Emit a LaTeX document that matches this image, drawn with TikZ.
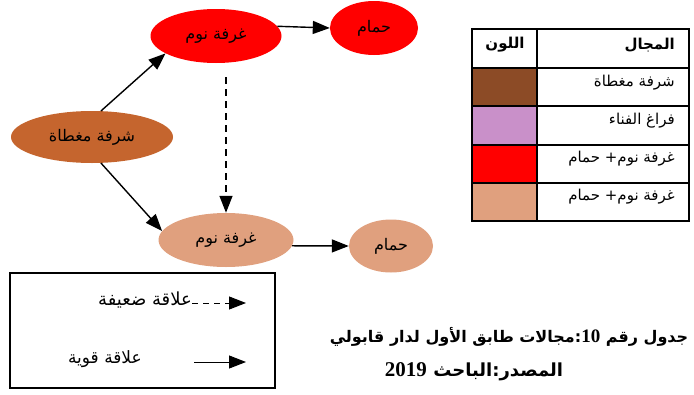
\documentclass[tikz,border=0pt]{standalone}
\usepackage{fontspec}
\setmainfont{Liberation Sans}
\newfontfamily\arabicfont[Script=Arabic]{DejaVu Sans}
\newfontfamily\numfont{Liberation Serif}
\TeXXeTstate=1
\usetikzlibrary{arrows.meta,shapes.geometric}
\definecolor{balconybrown}{RGB}{197,101,46}
\definecolor{bedpeach}{RGB}{224,160,126}
\definecolor{keybrown}{RGB}{140,75,38}
\definecolor{keyviolet}{RGB}{201,144,201}
\newcommand{\artxt}[1]{\beginR #1\endR}
\tikzset{
  room/.style={ellipse, inner sep=0pt, font=\arabicfont\fontsize{16}{18}\selectfont},
  link/.style={-{Triangle[length=17pt,width=13pt]}, line width=1.4pt},
  weaklink/.style={link, dash pattern=on 7pt off 5pt},
  keytext/.style={inner sep=0pt, font=\arabicfont\fontsize{15}{17}\selectfont},
}

\begin{document}
\begin{tikzpicture}[x=1pt,y=-1pt]
        \useasboundingbox (0,0) rectangle (694,394);

        % rooms
        \node[room, fill=balconybrown, minimum width=162pt, minimum height=52pt] (balcony) at (92,137) {\artxt{شرفة مغطاة}};
        \node[room, fill=red, minimum width=131pt, minimum height=54pt] (bedA) at (216,36) {\artxt{غرفة نوم}};
        \node[room, fill=red, minimum width=88pt, minimum height=54pt] (bathA) at (374,28) {\artxt{حمام}};
        \node[room, fill=bedpeach, minimum width=135pt, minimum height=54pt] (bedB) at (226,240) {\artxt{غرفة نوم}};
        \node[room, fill=bedpeach, minimum width=84pt, minimum height=53pt] (bathB) at (391,246) {\artxt{حمام}};

        % strong links
        \draw[link] (balcony.71) -- (bedA.199);
        \draw[link] (balcony.-71) -- (bedB.172);
        \draw[link] (bedA.9) -- (bathA.west);
        \draw[link] (bedB.-5) -- (bathB.west);

        % weak link
        \draw[weaklink, shorten <=14pt] (bedB.north |- bedA.south) -- (bedB.north);

        % colour table
        \foreach \clr [count=\i from 0] in {keybrown,keyviolet,red,bedpeach}
            \fill[\clr] (472,68+38.3*\i) rectangle (537,68+38.3*\i+38.3);
        \draw[line width=2pt] (472,29) rectangle (689,221);
        \foreach \yy in {68,106.3,144.6,182.9}
            \draw[line width=2pt] (472,\yy) -- (689,\yy);
        \draw[line width=2pt] (537,29) -- (537,221);

        \node[keytext, font=\arabicfont\bfseries\fontsize{15}{17}\selectfont, anchor=east] (head_area) at (675,45) {\artxt{المجال}};
        \node[keytext, font=\arabicfont\bfseries\fontsize{15}{17}\selectfont] (head_colour) at (505,45) {\artxt{اللون}};
        \node[keytext, anchor=east] (key_balcony) at (675,83) {\artxt{شرفة  مغطاة}};
        \node[keytext, anchor=east] (key_court) at (675,121) {\artxt{فراغ الفناء}};
        \node[keytext, anchor=east] (key_redrooms) at (675,159) {\artxt{غرفة نوم+ حمام}};
        \node[keytext, anchor=east] (key_peachrooms) at (675,197) {\artxt{غرفة نوم+ حمام}};

        % legend
        \draw[line width=1.5pt] (10,273) rectangle (275,388);
        \node[keytext, font=\arabicfont\fontsize{18}{20}\selectfont, anchor=east] (weak_key) at (192,300) {\artxt{علاقة ضعيفة}};
        \node[keytext, font=\arabicfont\fontsize{17}{20}\selectfont, anchor=east] (strong_key) at (142,359) {\artxt{علاقة قوية}};
        \coordinate (weak_end) at (246,303);
        \coordinate (strong_end) at (246,362);
        \draw[link, line width=1pt, dash pattern=on 6pt off 5pt] (weak_key.east |- weak_end) -- (weak_end);
        \draw[link, line width=1pt, shorten <=52pt] (strong_key.east |- strong_end) -- (strong_end);

        % caption
        \node[font=\arabicfont\bfseries\fontsize{16}{20}\selectfont] (caption) at (509,337)
            {\artxt{جدول رقم \beginL{\numfont\bfseries\fontsize{19}{20}\selectfont 10}\endL:مجالات طابق الأول لدار قابولي}};
        \node[font=\arabicfont\bfseries\fontsize{18}{20}\selectfont] (source) at (474,372)
            {\artxt{المصدر:الباحث \beginL{\numfont\bfseries\fontsize{21}{20}\selectfont 2019}\endL}};
\end{tikzpicture}
\end{document}
